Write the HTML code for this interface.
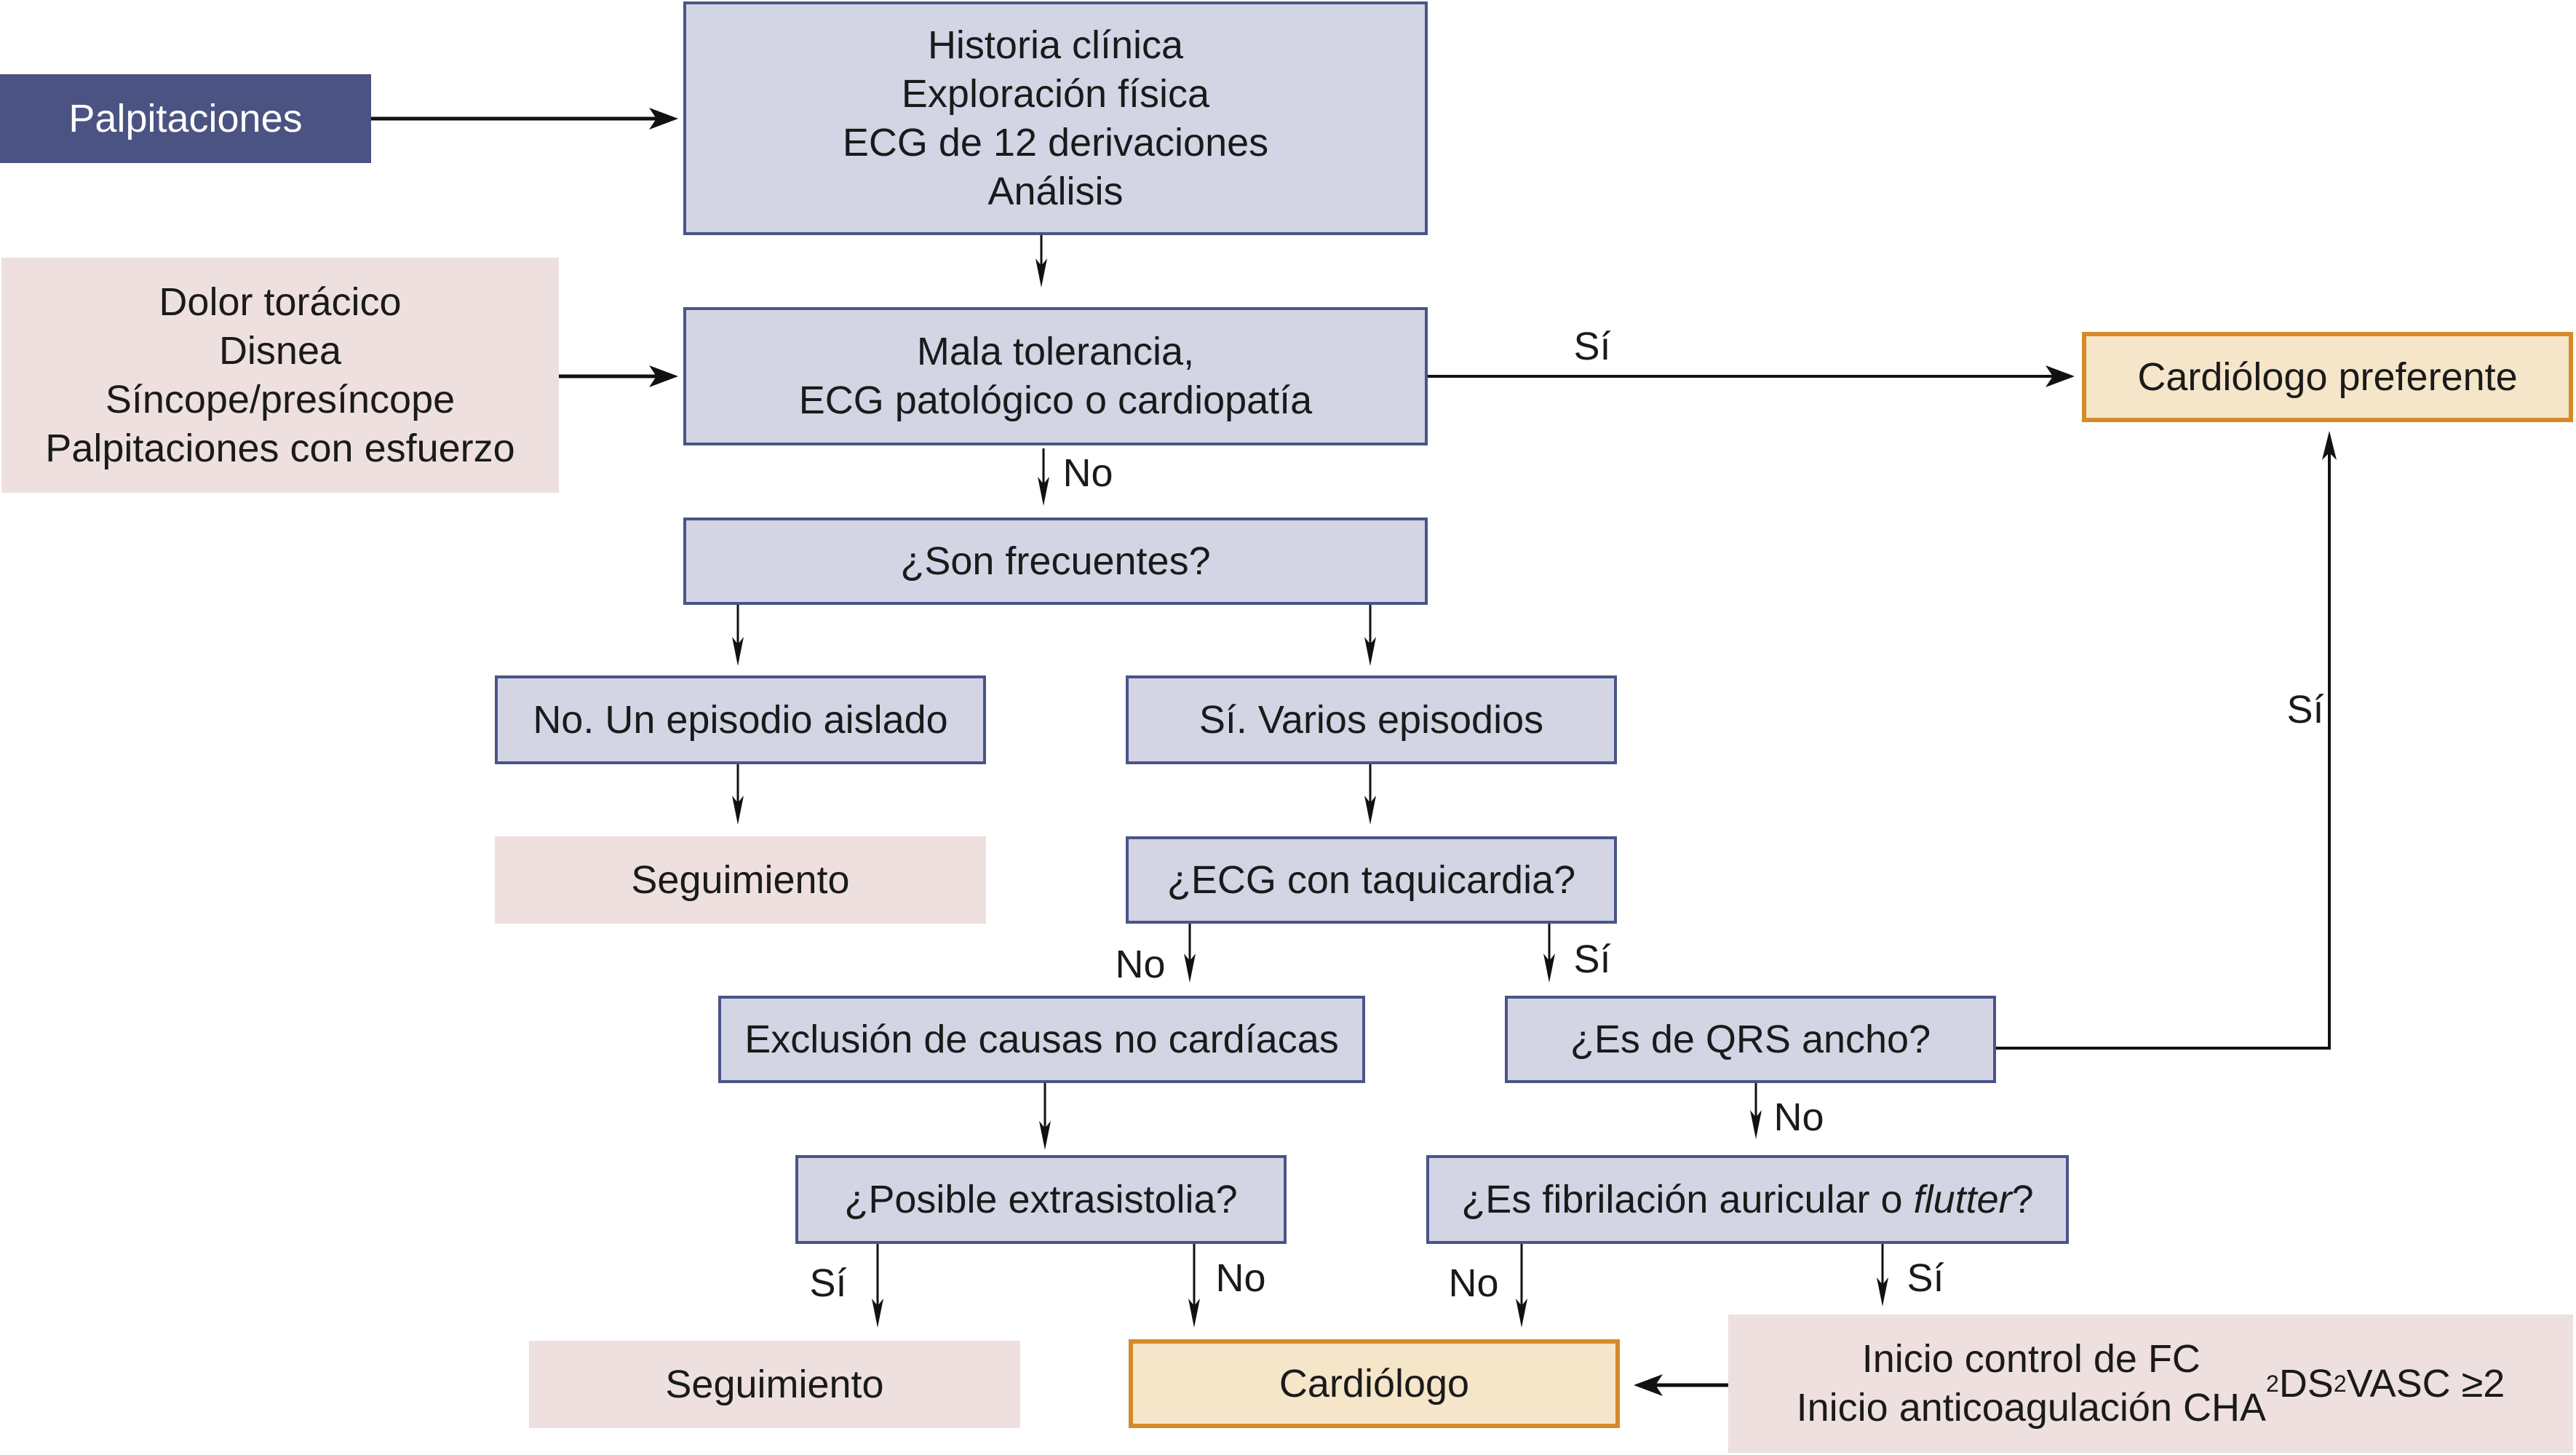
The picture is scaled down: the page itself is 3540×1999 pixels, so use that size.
<!DOCTYPE html>
<html><head><meta charset="utf-8"><style>
*{margin:0;padding:0;box-sizing:border-box}
body{width:3540px;height:1999px;background:#fff;position:relative;overflow:hidden;font-family:"Liberation Sans Narrow","Liberation Sans",sans-serif;font-size:54px;color:#1a1a1a}
.b{position:absolute;display:flex;align-items:center;justify-content:center;text-align:center;line-height:67px}
.blue{background:#d3d5e4;border:4px solid #4a5488}
.pink{background:#ede0df}
.or{background:#f5e5c9;border:6px solid #d58a2a}
.l{position:absolute;transform:translate(-50%,-50%);white-space:nowrap}
sub{font-size:32px;vertical-align:-14px;line-height:0}
</style></head><body>
<svg style="position:absolute;left:0;top:0" width="3540" height="1999">
<defs><marker id="a" viewBox="0 0 10 10" refX="10" refY="5" markerWidth="10" markerHeight="10" markerUnits="userSpaceOnUse" orient="auto"></marker></defs>
<g stroke="#111" fill="none">
<line x1="510" y1="163" x2="910" y2="163" stroke-width="5"/>
<line x1="1431" y1="323" x2="1431" y2="380" stroke-width="3"/>
<line x1="768" y1="517" x2="910" y2="517" stroke-width="5"/>
<line x1="1962" y1="517" x2="2830" y2="517" stroke-width="4"/>
<line x1="1434" y1="616" x2="1434" y2="680" stroke-width="3"/>
<line x1="1014" y1="831" x2="1014" y2="900" stroke-width="3"/>
<line x1="1883" y1="831" x2="1883" y2="900" stroke-width="3"/>
<line x1="1014" y1="1050" x2="1014" y2="1118" stroke-width="3"/>
<line x1="1883" y1="1050" x2="1883" y2="1118" stroke-width="3"/>
<line x1="1635" y1="1269" x2="1635" y2="1335" stroke-width="3"/>
<line x1="2129" y1="1269" x2="2129" y2="1335" stroke-width="3"/>
<line x1="1436" y1="1488" x2="1436" y2="1565" stroke-width="3"/>
<line x1="2413" y1="1488" x2="2413" y2="1550" stroke-width="3"/>
<polyline points="2743,1440 3201,1440 3201,615" stroke-width="4"/>
<line x1="1206" y1="1709" x2="1206" y2="1809" stroke-width="3"/>
<line x1="1641" y1="1709" x2="1641" y2="1809" stroke-width="3"/>
<line x1="2091" y1="1709" x2="2091" y2="1809" stroke-width="3"/>
<line x1="2587" y1="1709" x2="2587" y2="1780" stroke-width="3"/>
<line x1="2375" y1="1903" x2="2265" y2="1903" stroke-width="5"/>
</g>
<g fill="#111">
<polygon points="932,163 892,148 902,163 892,178"/>
<polygon points="1431,395 1423,355 1431,365 1439,355"/>
<polygon points="932,517 892,502 902,517 892,532"/>
<polygon points="2851,517 2811,502 2821,517 2811,532"/>
<polygon points="1434,695 1426,655 1434,665 1442,655"/>
<polygon points="1014,915 1006,875 1014,885 1022,875"/>
<polygon points="1883,915 1875,875 1883,885 1891,875"/>
<polygon points="1014,1133 1006,1093 1014,1103 1022,1093"/>
<polygon points="1883,1133 1875,1093 1883,1103 1891,1093"/>
<polygon points="1635,1350 1627,1310 1635,1320 1643,1310"/>
<polygon points="2129,1350 2121,1310 2129,1320 2137,1310"/>
<polygon points="1436,1580 1428,1540 1436,1550 1444,1540"/>
<polygon points="2413,1565 2405,1525 2413,1535 2421,1525"/>
<polygon points="3201,592 3191,632 3201,622 3211,632"/>
<polygon points="1206,1824 1198,1784 1206,1794 1214,1784"/>
<polygon points="1641,1824 1633,1784 1641,1794 1649,1784"/>
<polygon points="2091,1824 2083,1784 2091,1794 2099,1784"/>
<polygon points="2587,1795 2579,1755 2587,1765 2595,1755"/>
<polygon points="2245,1903 2285,1888 2275,1903 2285,1918"/>
</g>
</svg>
<div class="b" style="left:0;top:102px;width:510px;height:122px;background:#4b5382;color:#fff">Palpitaciones</div>
<div class="b blue" style="left:939px;top:2px;width:1023px;height:321px">Historia clínica<br>Exploración física<br>ECG de 12 derivaciones<br>Análisis</div>
<div class="b pink" style="left:2px;top:354px;width:766px;height:323px">Dolor torácico<br>Disnea<br>Síncope/presíncope<br>Palpitaciones con esfuerzo</div>
<div class="b blue" style="left:939px;top:422px;width:1023px;height:190px">Mala tolerancia,<br>ECG patológico o cardiopatía</div>
<div class="b or" style="left:2861px;top:456px;width:675px;height:124px">Cardiólogo preferente</div>
<div class="b blue" style="left:939px;top:711px;width:1023px;height:120px">¿Son frecuentes?</div>
<div class="b blue" style="left:680px;top:928px;width:675px;height:122px">No. Un episodio aislado</div>
<div class="b blue" style="left:1547px;top:928px;width:675px;height:122px">Sí. Varios episodios</div>
<div class="b pink" style="left:680px;top:1149px;width:675px;height:120px">Seguimiento</div>
<div class="b blue" style="left:1547px;top:1149px;width:675px;height:120px">¿ECG con taquicardia?</div>
<div class="b blue" style="left:987px;top:1368px;width:889px;height:120px">Exclusión de causas no cardíacas</div>
<div class="b blue" style="left:2068px;top:1368px;width:675px;height:120px">¿Es de QRS ancho?</div>
<div class="b blue" style="left:1093px;top:1587px;width:675px;height:122px">¿Posible extrasistolia?</div>
<div class="b blue" style="left:1960px;top:1587px;width:883px;height:122px">¿Es fibrilación auricular o&nbsp;<i>flutter</i>?</div>
<div class="b pink" style="left:727px;top:1842px;width:675px;height:120px">Seguimiento</div>
<div class="b or" style="left:1551px;top:1840px;width:675px;height:122px">Cardiólogo</div>
<div class="b pink" style="left:2375px;top:1806px;width:1161px;height:190px">Inicio control de FC<br>Inicio anticoagulación CHA<sub>2</sub>DS<sub>2</sub>VASC ≥2</div>
<div class="l" style="left:2188px;top:476px">Sí</div>
<div class="l" style="left:1495px;top:650px">No</div>
<div class="l" style="left:1567px;top:1325px">No</div>
<div class="l" style="left:2188px;top:1318px">Sí</div>
<div class="l" style="left:2472px;top:1535px">No</div>
<div class="l" style="left:3168px;top:975px">Sí</div>
<div class="l" style="left:1138px;top:1763px">Sí</div>
<div class="l" style="left:1705px;top:1756px">No</div>
<div class="l" style="left:2025px;top:1763px">No</div>
<div class="l" style="left:2646px;top:1756px">Sí</div>
</body></html>
